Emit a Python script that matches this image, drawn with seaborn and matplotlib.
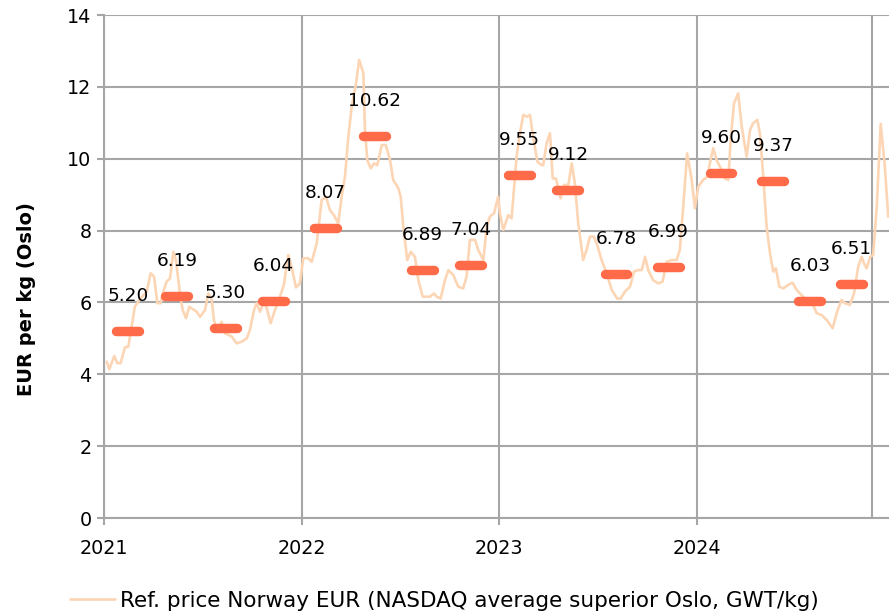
import numpy as np
import pandas as pd
import matplotlib
matplotlib.use("Agg")
import matplotlib.pyplot as plt
import seaborn as sns

# Weekly reference price (years since start of 2021, EUR/kg)
week_t = [0.014, 0.027, 0.052, 0.067, 0.084, 0.106, 0.123, 0.140, 0.156, 0.179,
          0.216, 0.236, 0.253, 0.270, 0.287, 0.300, 0.317, 0.334, 0.351, 0.364,
          0.384, 0.398, 0.415, 0.431, 0.469, 0.486, 0.511, 0.528, 0.545, 0.556,
          0.570, 0.595, 0.612, 0.646, 0.671, 0.697, 0.722, 0.738, 0.759, 0.772,
          0.789, 0.809, 0.823, 0.843, 0.865, 0.890, 0.910, 0.932, 0.949, 0.971,
          0.991, 1.008, 1.033, 1.051, 1.076, 1.101, 1.123, 1.143, 1.163, 1.185,
          1.202, 1.219, 1.236, 1.253, 1.275, 1.291, 1.312, 1.320, 1.332, 1.349,
          1.366, 1.382, 1.405, 1.426, 1.447, 1.463, 1.489, 1.501, 1.514, 1.534,
          1.551, 1.573, 1.590, 1.612, 1.649, 1.669, 1.683, 1.703, 1.725, 1.742,
          1.767, 1.792, 1.817, 1.834, 1.851, 1.877, 1.893, 1.919, 1.936, 1.952,
          1.973, 1.994, 2.003, 2.020, 2.045, 2.062, 2.087, 2.104, 2.121, 2.138,
          2.155, 2.171, 2.192, 2.214, 2.222, 2.239, 2.256, 2.270, 2.286, 2.310,
          2.327, 2.349, 2.366, 2.382, 2.399, 2.424, 2.441, 2.458, 2.478, 2.495,
          2.517, 2.543, 2.568, 2.596, 2.614, 2.635, 2.661, 2.681, 2.703, 2.720,
          2.737, 2.753, 2.778, 2.804, 2.826, 2.846, 2.872, 2.897, 2.913, 2.930,
          2.950, 2.973, 2.989, 3.006, 3.031, 3.052, 3.065, 3.082, 3.099, 3.124,
          3.141, 3.158, 3.170, 3.187, 3.208, 3.226, 3.251, 3.268, 3.284, 3.305,
          3.318, 3.335, 3.352, 3.369, 3.385, 3.399, 3.416, 3.436, 3.461, 3.483,
          3.504, 3.520, 3.546, 3.580, 3.605, 3.630, 3.656, 3.686, 3.706, 3.731,
          3.748, 3.773, 3.794, 3.815, 3.833, 3.844, 3.858, 3.876, 3.891, 3.909,
          3.929, 3.950, 3.967]
week_price = [4.35, 4.14, 4.51, 4.31, 4.31, 4.75, 4.77, 5.33, 5.88, 6.07,
              6.30, 6.81, 6.72, 5.98, 5.98, 6.30, 6.58, 6.67, 7.41, 7.18,
              6.25, 5.79, 5.56, 5.88, 5.74, 5.60, 5.79, 6.25, 6.07, 5.51,
              5.23, 5.46, 5.14, 5.05, 4.86, 4.91, 5.00, 5.23, 5.79, 5.98,
              5.74, 6.02, 5.84, 5.42, 5.79, 6.16, 6.49, 7.32, 6.99, 6.42,
              6.53, 7.23, 7.23, 7.13, 7.65, 8.85, 8.94, 8.57, 8.43, 8.20,
              8.94, 9.50, 10.61, 11.45, 12.10, 12.75, 12.38, 10.80, 9.96, 9.73,
              9.87, 9.82, 10.38, 10.38, 9.96, 9.41, 9.18, 8.94, 8.11, 7.18,
              7.41, 7.27, 6.62, 6.16, 6.16, 6.25, 6.16, 6.11, 6.62, 6.90,
              6.76, 6.44, 6.39, 6.72, 7.74, 7.74, 7.46, 7.18, 8.11, 8.39,
              8.48, 8.94, 8.48, 8.02, 8.43, 8.34, 10.06, 10.71, 11.22, 11.17,
              11.22, 10.61, 9.92, 9.82, 9.82, 10.43, 10.71, 9.45, 9.45, 8.90,
              9.27, 9.27, 9.87, 9.31, 8.20, 7.18, 7.46, 7.83, 7.83, 7.60,
              7.18, 6.81, 6.35, 6.11, 6.11, 6.30, 6.44, 6.86, 6.90, 6.90,
              7.27, 6.90, 6.62, 6.53, 6.58, 7.13, 7.18, 7.18, 7.46, 8.66,
              10.15, 9.41, 8.62, 9.22, 9.41, 9.50, 9.87, 10.29, 9.96, 9.69,
              9.45, 9.41, 10.52, 11.54, 11.82, 10.89, 10.06, 10.80, 10.99, 11.08,
              10.70, 9.50, 8.11, 7.37, 6.86, 6.95, 6.44, 6.39, 6.49, 6.55,
              6.35, 6.25, 6.11, 6.02, 5.70, 5.65, 5.51, 5.28, 5.70, 6.07,
              5.98, 5.93, 6.25, 6.99, 7.27, 7.09, 6.95, 7.27, 7.32, 8.66,
              10.97, 9.78, 8.39]

# Quarterly averages and where each quarter mark sits on the time axis
quarters = ["Q1 2021", "Q2 2021", "Q3 2021", "Q4 2021",
            "Q1 2022", "Q2 2022", "Q3 2022", "Q4 2022",
            "Q1 2023", "Q2 2023", "Q3 2023", "Q4 2023",
            "Q1 2024", "Q2 2024", "Q3 2024", "Q4 2024"]
quarter_t = [0.121, 0.369, 0.615, 0.858,
             1.122, 1.366, 1.611, 1.855,
             2.102, 2.347, 2.590, 2.856,
             3.121, 3.384, 3.571, 3.779]
quarter_avg = [5.20, 6.19, 5.30, 6.04,
               8.07, 10.62, 6.89, 7.04,
               9.55, 9.12, 6.78, 6.99,
               9.60, 9.37, 6.03, 6.51]

year_labels = ["2021", "2022", "2023", "2024"]
series_name = "Ref. price Norway EUR (NASDAQ average superior Oslo, GWT/kg)"

LINE_C = "#FCD5B4"
BAR_C = "#FF6A48"
GRID_C = "#A6A6A6"
TXT_C = "#000000"

sns.set_theme(style="white")
plt.rcParams["font.family"] = ["DejaVu Sans"]

fig = plt.figure(figsize=(8.89, 6.16), dpi=100)
ax = fig.add_axes([104 / 889, 1 - 518 / 616, 785 / 889, 503 / 616])

df = pd.DataFrame({"t": np.array(week_t) + 2021, "price": week_price})
sns.lineplot(data=df, x="t", y="price", ax=ax, color=LINE_C, linewidth=1.9,
             label=series_name, legend=False, zorder=2)

# quarterly average bars
q_centers = 2021 + np.array(quarter_t)
half = 0.058
ax.hlines(quarter_avg, q_centers - half, q_centers + half, colors=BAR_C,
          linewidth=6.8, capstyle="round", zorder=3)
for xc, v in zip(q_centers, quarter_avg):
    ax.annotate(f"{v:.2f}", (xc, v), xytext=(0, 35), textcoords="offset pixels",
                ha="center", va="center", fontsize=13.3, color=TXT_C, zorder=4)

ax.set_xlim(2021, 2024.971)
ax.set_ylim(0, 14)
ax.set_yticks(np.arange(0, 15, 2))
ax.set_yticklabels([str(v) for v in range(0, 15, 2)])
year_pos = [2021, 2022, 2023, 2024]
ax.set_xticks(year_pos)
ax.set_xticklabels(year_labels)

ax.grid(True, color=GRID_C, linewidth=1.5, zorder=0)
ax.axvline(2024.885, color=GRID_C, linewidth=1.5, zorder=0)
ax.set_axisbelow(True)
for s in ["top", "right"]:
    ax.spines[s].set_visible(False)
for s in ["left", "bottom"]:
    ax.spines[s].set_color(GRID_C)
    ax.spines[s].set_linewidth(1.5)

ax.tick_params(axis="both", which="major", direction="out", length=5, width=1.5,
               color=GRID_C, labelsize=13.8, labelcolor=TXT_C, left=True, bottom=True)
ax.tick_params(axis="y", pad=4)
ax.tick_params(axis="x", pad=10)

ax.set_xlabel("")
ax.set_ylabel("EUR per kg (Oslo)", fontsize=14, fontweight="bold", color=TXT_C)
ax.yaxis.set_label_coords(-0.086, 0.435)

handles, labels = ax.get_legend_handles_labels()
fig.legend(handles, labels, loc="center", bbox_to_anchor=(0.5, 1 - 601 / 616),
           frameon=False, fontsize=15.5, handlelength=2.1, handletextpad=0.25,
           labelcolor=TXT_C)

fig.savefig("out.png", dpi=100)
